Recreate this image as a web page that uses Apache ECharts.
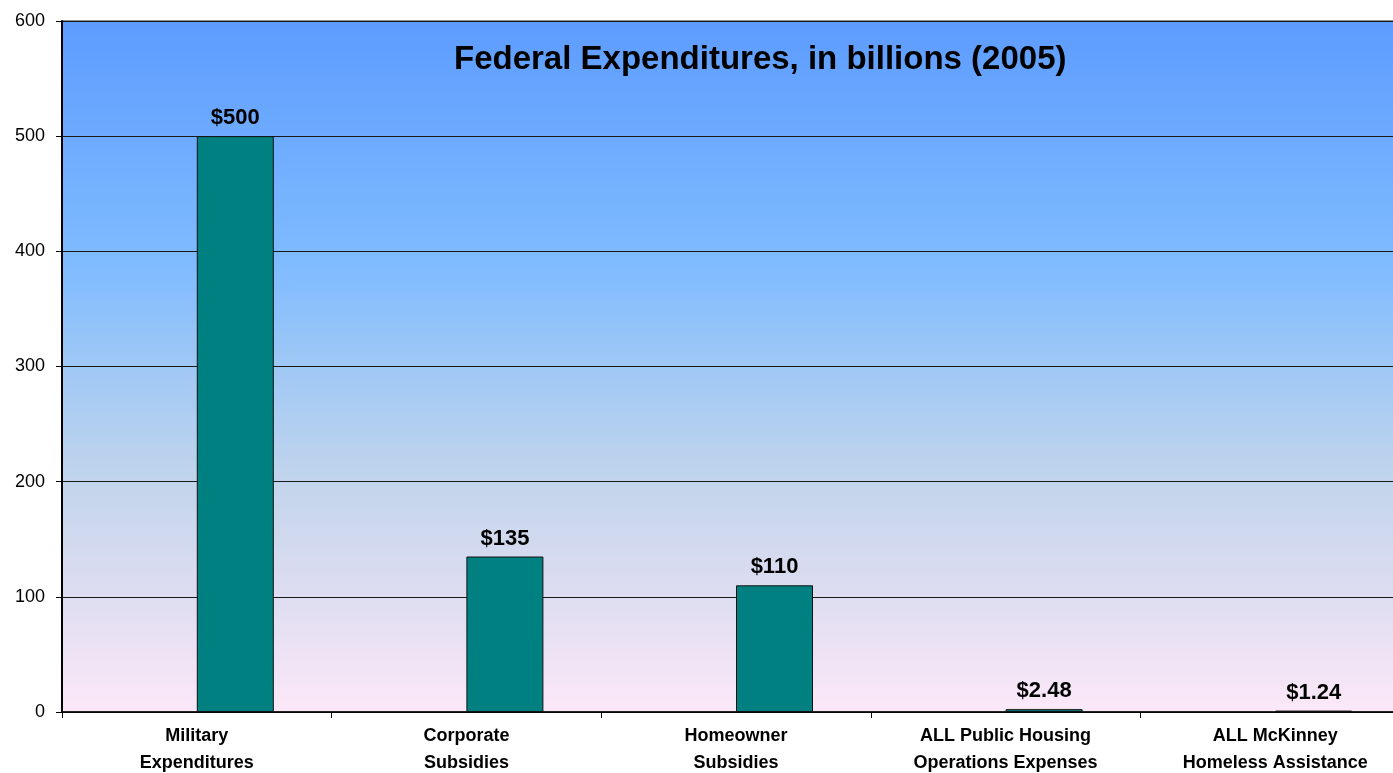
<!DOCTYPE html>
<html><head><meta charset="utf-8">
<script src="https://cdn.jsdelivr.net/npm/echarts@6/dist/echarts.min.js"></script>
<style>html,body{margin:0;padding:0;background:#fff;overflow:hidden}#c{width:1393px;height:773px}</style>
</head><body><div id="c"></div>
<script>
const categories = ['Military\nExpenditures', 'Corporate\nSubsidies', 'Homeowner\nSubsidies', 'ALL Public Housing\nOperations Expenses', 'ALL McKinney\nHomeless Assistance'];
const values = [500, 135, 110, 2.48, 1.24];
const valueLabels = ['$500', '$135', '$110', '$2.48', '$1.24'];
const emptySeries = [null, null, null, null, null];
const titleText = 'Federal Expenditures, in billions (2005)';

const FONT = 'Liberation Sans, Arial, sans-serif';
const chart = echarts.init(document.getElementById('c'));
chart.setOption({
  animation: false,
  title: { text: titleText, left: 449, top: 38, textStyle: { fontFamily: FONT, fontWeight: 'bold', fontSize: 33, color: '#000' } },
  grid: { left: 62, right: -17, top: 21, bottom: 61, outerBoundsMode: 'none', containLabel: false,
    show: true, borderWidth: 1, borderColor: '#222',
    backgroundColor: new echarts.graphic.LinearGradient(0, 0, 0, 1, [
      { offset: 0, color: '#5D9CFF' },
      { offset: 0.36, color: '#80BCFF' },
      { offset: 0.5, color: '#9FC8F5' },
      { offset: 0.67, color: '#C3D5EC' },
      { offset: 0.83, color: '#DEDDF1' },
      { offset: 1, color: '#FCE8F8' }
    ]) },
  xAxis: { type: 'category', data: categories,
    axisLine: { lineStyle: { color: '#000', width: 1.5 } },
    axisTick: { show: true, length: 6, lineStyle: { color: '#000' } },
    axisLabel: { color: '#000', fontFamily: FONT, fontWeight: 'bold', fontSize: 18, lineHeight: 27, margin: 11 } },
  yAxis: { type: 'value', min: 0, max: 600, interval: 100,
    axisLine: { show: true, lineStyle: { color: '#000', width: 2 } },
    axisTick: { show: true, length: 6, lineStyle: { color: '#000' } },
    splitLine: { lineStyle: { color: '#1a1a1a', width: 1 } },
    axisLabel: { color: '#000', fontFamily: FONT, fontSize: 18, margin: 17 } },
  series: [
    { type: 'bar', data: emptySeries, barWidth: 77, barGap: '0%', silent: true },
    { type: 'bar', data: values, barWidth: 77, barGap: '0%',
      itemStyle: { color: '#008080', borderColor: '#111', borderWidth: 1 },
      label: { show: true, position: 'top', distance: 7, color: '#000', fontFamily: FONT, fontWeight: 'bold', fontSize: 22,
        formatter: p => valueLabels[p.dataIndex] } }
  ]
});
</script></body></html>
